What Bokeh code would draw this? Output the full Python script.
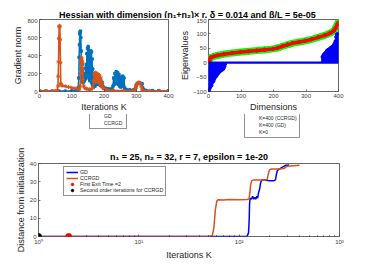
from bokeh.plotting import figure
from bokeh.layouts import column, row
from bokeh.models import Range1d, Legend, LegendItem, Label, FixedTicker
from bokeh.embed import file_html
from bokeh.resources import INLINE

# ---------------- data ----------------
# top-left: gradient norm vs iterations
gd_iter = [0, 20, 40, 60, 80, 100, 110, 118, 120, 122, 123, 124, 125, 126, 127, 128, 129, 130, 131, 132,
           133, 134, 135, 136, 137, 138, 139, 140, 141, 142, 143, 144, 145, 146, 147, 148, 149, 150, 151, 152,
           153, 154, 155, 156, 157, 158, 159, 160, 161, 162, 163, 164, 165, 166, 167, 168, 170, 172, 175, 178,
           180, 182, 185, 188, 190, 193, 195, 198, 200, 205, 210, 215, 220, 225, 228, 230, 232, 234, 236, 238,
           240, 242, 244, 246, 248, 250, 252, 254, 256, 258, 260, 262, 264, 266, 270, 280, 290, 295, 298, 300,
           303, 306, 310, 315, 318, 320, 323, 330, 350, 370, 400]
gd_norm = [5, 5, 4, 4, 4, 5, 6, 10, 40, 150, 380, 520, 640, 660, 670, 600, 450, 250, 150, 300,
           120, 250, 100, 200, 110, 180, 120, 160, 150, 140, 260, 150, 300, 200, 420, 180, 480, 200, 500, 180,
           460, 150, 430, 120, 380, 140, 450, 120, 440, 100, 360, 80, 250, 60, 150, 50, 100, 60, 120, 80,
           150, 90, 130, 70, 120, 60, 100, 50, 40, 35, 30, 25, 25, 30, 60, 150, 80, 200, 100, 220,
           90, 210, 80, 190, 60, 150, 50, 160, 60, 170, 60, 150, 40, 25, 20, 18, 15, 20, 40, 70,
           85, 90, 92, 90, 85, 40, 20, 12, 10, 8, 8]
cc_iter = [0, 20, 40, 50, 55, 57, 58, 59, 60, 61, 62, 63, 64, 65, 66, 67, 70, 80, 90, 100,
           110, 120, 124, 126, 128, 129, 130, 131, 132, 133, 134, 135, 137, 140, 145, 150, 155, 160, 165, 168,
           170, 172, 174, 176, 178, 180, 182, 184, 186, 188, 190, 192, 194, 196, 200, 205, 210, 230, 260, 290,
           295, 298, 300, 303, 306, 309, 312, 315, 318, 322, 340, 370, 400]
cc_norm = [5, 5, 5, 6, 10, 60, 170, 330, 590, 720, 730, 720, 580, 320, 90, 70, 65, 58, 50, 42,
           35, 28, 25, 60, 200, 340, 380, 360, 330, 320, 250, 130, 60, 40, 30, 25, 22, 25, 40, 120,
           200, 100, 210, 120, 200, 130, 190, 100, 180, 80, 150, 60, 100, 40, 30, 20, 15, 12, 10, 10,
           15, 30, 60, 90, 100, 100, 90, 60, 25, 10, 8, 8, 8]

# top-right: eigenvalues vs dimensions
eig_dims = [0, 2, 5, 10, 20, 30, 50, 75, 100, 125, 150, 175, 200, 215, 230, 245, 260, 280, 300, 320,
            340, 360, 375, 385, 390, 395, 399]
eig_ccrgd = [-2, 8, 14, 19, 23, 26, 30, 34, 37, 40, 42, 45, 48, 52, 58, 63, 68, 72, 76, 82,
             89, 96, 103, 110, 118, 130, 140]
eig_gd = [3, 9, 15, 19, 23, 26, 30, 34, 37, 40, 42, 45, 48, 52, 58, 63, 68, 72, 76, 82,
          89, 96, 103, 110, 118, 129, 137]
k0_neg_dims = [0, 2, 4, 6, 8, 10, 12, 14, 16, 18, 20, 22, 24, 26, 28, 30, 32, 34, 36, 38, 40, 42, 44, 46, 48, 50, 52]
k0_neg_vals = [-100, -98, -90, -85, -82, -78, -70, -66, -64, -58, -52, -50, -47, -44, -40, -37, -35, -32, -30,
               -28, -26, -25, -24, -22, -18, -12, -5]
k0_pos_dims = [350, 352, 354, 356, 358, 360, 362, 364, 366, 368, 370, 372, 374, 376, 378, 380, 382, 384, 386,
               388, 390, 392, 394, 396, 398]
k0_pos_vals = [20, 24, 28, 30, 33, 35, 38, 42, 44, 45, 46, 48, 50, 52, 54, 55, 56, 60, 64, 68, 75, 90, 98, 100, 100]

# bottom: distance from initialization (log x)
gd_k = [1, 2, 5, 10, 50, 100, 120, 124, 126, 127, 128, 130, 133, 136, 140, 143, 146, 150, 153, 156,
        160, 163, 166, 170, 180, 200, 220, 230, 235, 240, 245, 250, 255, 260, 270, 280, 290, 300, 315]
gd_dist = [0, 0, 0, 0, 0, 0, 0.2, 2, 10, 18, 20, 21, 20.5, 22, 20.5, 21.5, 20.5, 22, 21, 24,
           26, 29, 30.5, 31, 31, 30.5, 30.5, 31, 34, 36, 36.5, 37, 37, 37.5, 38, 38.5, 39, 39, 39.2]
cc_k = [1, 10, 50, 54, 56, 58, 60, 62, 70, 80, 100, 120, 125, 128, 130, 133, 140, 160, 180, 190,
        195, 200, 210, 250, 280, 290, 300, 320, 350, 400]
cc_dist = [0, 0, 0, 0.5, 5, 15, 19.5, 20.2, 20, 20.3, 20.1, 20.3, 20.5, 24, 28, 30.5, 31, 31, 31, 31.2,
           34, 36.5, 37, 37, 37.2, 38, 38.5, 38.6, 38.8, 39]
first_exit_k = [2]
first_exit_d = [0]
second_order_k = [1]
second_order_d = [0]

# ---------------- style ----------------
FONT = "Liberation Sans"
AX = "#262626"
BLUE = "#0072BD"
ORANGE = "#D95319"
GREEN = "#00FF00"
RED = "#FF0000"
PBLUE = "#0000FF"


def style(p):
    p.outline_line_color = AX
    p.outline_line_width = 0.7
    p.xgrid.visible = False
    p.ygrid.visible = False
    p.background_fill_color = "white"
    p.border_fill_color = "white"
    for ax in list(p.xaxis) + list(p.yaxis):
        ax.axis_line_color = None
        ax.major_tick_in = 2
        ax.major_tick_out = 0
        ax.minor_tick_in = 0
        ax.minor_tick_out = 0
        ax.major_tick_line_color = AX
        ax.major_tick_line_width = 0.6
        ax.major_label_text_font = FONT
        ax.major_label_text_font_size = "6px"
        ax.major_label_text_color = "#404040"
        ax.axis_label_text_font = FONT
        ax.axis_label_text_font_size = "9px"
        ax.axis_label_text_font_style = "normal"
        ax.axis_label_text_color = AX
        ax.major_label_standoff = 2
        ax.axis_label_standoff = 1


def style_legend(lg, fs="5px", h=5, gw=10, sp=1):
    lg.label_text_font = FONT
    lg.label_text_font_size = fs
    lg.label_text_color = AX
    lg.label_height = h
    lg.glyph_height = h
    lg.glyph_width = gw
    lg.spacing = sp
    lg.padding = 2
    lg.margin = 0
    lg.label_standoff = 2
    lg.border_line_color = AX
    lg.border_line_width = 0.5
    lg.background_fill_color = "white"
    lg.background_fill_alpha = 1.0


def blank(width, height):
    b = figure(width=width, height=height, x_range=Range1d(0, 1), y_range=Range1d(0, 1),
               toolbar_location=None, output_backend="svg", min_border=0,
               min_border_left=0, min_border_right=0, min_border_top=0, min_border_bottom=0,
               x_axis_location=None, y_axis_location=None, frame_align=False)
    b.grid.visible = False
    b.outline_line_color = None
    return b


# header (super title)
hdr = blank(374, 18)
hdr.add_layout(Label(x=187, y=4, x_units="screen", y_units="screen",
                     text="Hessian with dimension (n\u2081+n\u2082)\u00d7 r, \u03b4 = 0.014 and \u03b2/L = 5e-05",
                     text_align="center", text_baseline="alphabetic", text_font=FONT,
                     text_font_style="bold", text_font_size="9px", text_color="black"))

# top-left
f1 = figure(width=176, height=96, x_range=Range1d(0, 400), y_range=Range1d(0, 800),
            toolbar_location=None, output_backend="svg", frame_align=False,
            min_border_left=39, min_border_right=8, min_border_top=1, min_border_bottom=22)
style(f1)
f1.xaxis.ticker = FixedTicker(ticks=[0, 100, 200, 300, 400])
f1.yaxis.ticker = FixedTicker(ticks=[0, 200, 400, 600, 800])
f1.xaxis.axis_label = "Iterations K"
f1.yaxis.axis_label = "Gradient norm"
f1.line(gd_iter, gd_norm, line_color=BLUE, line_width=1.6)
f1.scatter(gd_iter, gd_norm, marker="square", size=2.5, color=BLUE)
f1.line(cc_iter, cc_norm, line_color=ORANGE, line_width=1.6)
f1.scatter(cc_iter, cc_norm, marker="asterisk", size=4, line_color=ORANGE, line_width=1)

lf1 = blank(176, 34)
e = dict(x=[], y=[])
a1 = lf1.line(line_color=BLUE, line_width=1.2, **e)
b1 = lf1.scatter(marker="square", size=3, color=BLUE, **e)
a2 = lf1.line(line_color=ORANGE, line_width=1.2, **e)
b2 = lf1.scatter(marker="asterisk", size=4, line_color=ORANGE, **e)
lg1 = Legend(items=[LegendItem(label="GD", renderers=[a1, b1]),
                    LegendItem(label="CCRGD", renderers=[a2, b2])], location=(89, 19))
style_legend(lg1)
lf1.add_layout(lg1)

# top-right
f2 = figure(width=198, height=96, x_range=Range1d(0, 400), y_range=Range1d(-100, 150),
            toolbar_location=None, output_backend="svg", frame_align=False,
            min_border_left=32, min_border_right=36, min_border_top=1, min_border_bottom=22)
style(f2)
f2.xaxis.ticker = FixedTicker(ticks=[0, 100, 200, 300, 400])
f2.yaxis.ticker = FixedTicker(ticks=[-100, -50, 0, 50, 100, 150])
f2.xaxis.axis_label = "Dimensions"
f2.yaxis.axis_label = "Eigenvalues"
f2.yaxis.axis_label_standoff = 0

f2.line(eig_dims, eig_ccrgd, line_color=GREEN, line_width=7)
f2.scatter(eig_dims, eig_ccrgd, marker="square", size=5, color=GREEN)
f2.line(eig_dims, eig_gd, line_color=RED, line_width=3.5)
f2.scatter(eig_dims, eig_gd, marker="triangle", angle=-1.5708, size=4, color=RED)

# K=0: each eigenvalue drawn as a spike from zero and back
k0x, k0y = [], []
for d, v in zip(k0_neg_dims + k0_pos_dims, k0_neg_vals + k0_pos_vals):
    k0x += [d, d, d + 1]
    k0y += [0, v, 0]
k0x += [400]
k0y += [0]
f2.line(k0x, k0y, line_color=PBLUE, line_width=2.2)
f2.scatter(k0_neg_dims + k0_pos_dims, k0_neg_vals + k0_pos_vals, marker="circle", size=2.5, color=PBLUE)

lf2 = blank(198, 34)
c1 = lf2.line(line_color=GREEN, line_width=2.5, **e)
d1 = lf2.scatter(marker="square", size=4, color=GREEN, **e)
c2 = lf2.line(line_color=RED, line_width=1.5, **e)
d2 = lf2.scatter(marker="triangle", angle=-1.5708, size=4, color=RED, **e)
c3 = lf2.line(line_color="#8080FF", line_width=1, **e)
d3 = lf2.scatter(marker="asterisk", size=3, line_color="#6060FF", **e)
lg2 = Legend(items=[LegendItem(label="K=400 (CCRGD)", renderers=[c1, d1]),
                    LegendItem(label="K=400 (GD)", renderers=[c2, d2]),
                    LegendItem(label="K=0", renderers=[c3, d3])], location=(68, 10))
style_legend(lg2)
lf2.add_layout(lg2)

# bottom
f3 = figure(width=374, height=117, x_axis_type="log", x_range=Range1d(1, 1000), y_range=Range1d(0, 40),
            toolbar_location=None, output_backend="svg", frame_align=False,
            min_border_left=38, min_border_right=35, min_border_top=15, min_border_bottom=29,
            title="n\u2081 = 25, n\u2082 = 32, r = 7, epsilon = 1e-20")
style(f3)
f3.title.align = "center"
f3.title.text_font = FONT
f3.title.text_font_size = "9px"
f3.title.text_font_style = "bold"
f3.title.text_color = "black"
f3.title.standoff = 3
minor = [2, 3, 4, 5, 6, 7, 8, 9, 20, 30, 40, 50, 60, 70, 80, 90, 200, 300, 400, 500, 600, 700, 800, 900]
f3.xaxis.ticker = FixedTicker(ticks=[1, 10, 100, 1000], minor_ticks=minor)
f3.xaxis.major_label_overrides = {1: "10\u2070", 10: "10\u00b9", 100: "10\u00b2", 1000: "10\u00b3"}
f3.xaxis.minor_tick_in = 1
f3.xaxis.minor_tick_line_color = AX
f3.xaxis.axis_label_standoff = 2
f3.yaxis.ticker = FixedTicker(ticks=[0, 10, 20, 30, 40])
f3.xaxis.axis_label = "Iterations K"
f3.yaxis.axis_label = "Distance from initialization"

l3_gd = f3.line(gd_k, gd_dist, line_color=PBLUE, line_width=1.5)
l3_cc = f3.line(cc_k, cc_dist, line_color=ORANGE, line_width=1.5)
s3_fe = f3.scatter(first_exit_k, first_exit_d, marker="circle", size=6, color=RED)
s3_so = f3.scatter(second_order_k, second_order_d, marker="circle", size=6, color="black")
lg3 = Legend(items=[LegendItem(label="GD", renderers=[l3_gd]),
                    LegendItem(label="CCRGD", renderers=[l3_cc]),
                    LegendItem(label="First Exit Time =2", renderers=[s3_fe]),
                    LegendItem(label="Second order iterations for CCRGD", renderers=[s3_so])],
             location=(25, 40))
style_legend(lg3, fs="5.3px", h=6, gw=12, sp=0)
f3.add_layout(lg3)

layout = column(hdr, row(column(f1, lf1), column(f2, lf2)), f3)
open("out.html", "w").write(file_html(layout, INLINE))
